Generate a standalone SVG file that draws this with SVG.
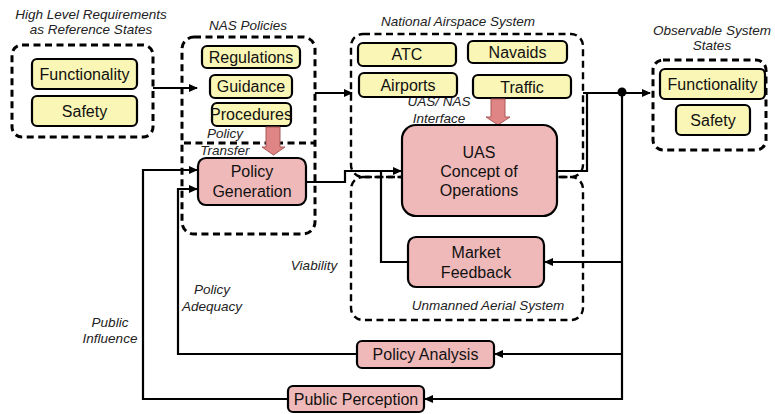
<svg xmlns="http://www.w3.org/2000/svg" width="775" height="414" viewBox="0 0 775 414">
<defs>
<style>
.dash{fill:none;stroke:#000;stroke-width:3;stroke-dasharray:7,4.5}
.dash2{fill:none;stroke:#000;stroke-width:2.4;stroke-dasharray:7,4.5}
.y{fill:#faf6b6;stroke:#000;stroke-width:2.2}
.p{fill:#f0b9b9;stroke:#000;stroke-width:2.2}
.t{font-family:"Liberation Sans",Arial,sans-serif;font-size:16px;fill:#111;text-anchor:middle}
.i{font-family:"Liberation Sans",Arial,sans-serif;font-size:13.5px;font-style:italic;fill:#222;text-anchor:middle}
.c{fill:none;stroke:#000;stroke-width:2.2}
.fat{fill:#e08585;stroke:#a85858;stroke-width:1}
</style>
<marker id="ah" markerWidth="9" markerHeight="8" refX="8" refY="4" orient="auto" markerUnits="userSpaceOnUse">
<path d="M0,0 L9,4 L0,8 Z" fill="#000"/>
</marker>
</defs>
<rect width="775" height="414" fill="#fff"/>

<g id="requirements">
<text class="i" x="91" y="19">High Level Requirements</text>
<text class="i" x="91" y="34">as Reference States</text>
<rect class="dash" x="12" y="45" width="141" height="92" rx="10"/>
</g>
<g id="nas-policies">
<text class="i" x="248" y="30">NAS Policies</text>
<rect class="dash" x="182" y="37" width="133" height="197" rx="12"/>
<line class="dash" x1="184" y1="143" x2="314" y2="143"/>
<text class="i" x="225" y="138">Policy</text>
<text class="i" x="225" y="155">Transfer</text>
</g>
<g id="nas">
<text class="i" x="458" y="26">National Airspace System</text>
<rect class="dash2" x="351" y="34" width="232" height="143" rx="12"/>
<text class="i" x="439" y="106">UAS/ NAS</text>
<text class="i" x="439" y="123">Interface</text>
</g>
<g id="uas-system">
<rect class="dash2" x="351" y="177" width="232" height="143" rx="12"/>
<text class="i" x="488" y="310">Unmanned Aerial System</text>
</g>
<g id="observable">
<text class="i" x="712" y="35">Observable System</text>
<text class="i" x="712" y="50">States</text>
<rect class="dash" x="653" y="60" width="113" height="90" rx="10"/>
</g>

<g id="connectors">
<line class="c" x1="153" y1="88" x2="197" y2="88" marker-end="url(#ah)"/>
<line class="c" x1="315" y1="93" x2="352" y2="93" marker-end="url(#ah)"/>
<polyline class="c" points="583,93 650,93" marker-end="url(#ah)"/>
<polyline class="c" points="557,171 587,171 587,93"/>
<circle cx="622" cy="92" r="4.5" fill="#000"/>
<line class="c" x1="622" y1="92" x2="622" y2="400"/>
<line class="c" x1="622" y1="262" x2="545" y2="262" marker-end="url(#ah)"/>
<line class="c" x1="622" y1="354" x2="495" y2="354" marker-end="url(#ah)"/>
<polyline class="c" points="622,399 425,399" marker-end="url(#ah)"/>
<polyline class="c" points="408,262 381,262 381,171"/>
<polyline class="c" points="306,182 345,182 345,171 401,171" marker-end="url(#ah)"/>
<polyline class="c" points="357,354 178,354 178,189 197,189" marker-end="url(#ah)"/>
<polyline class="c" points="288,399 143,399 143,170 197,170" marker-end="url(#ah)"/>
<text class="i" x="314" y="270">Viability</text>
<text class="i" x="212" y="294">Policy</text>
<text class="i" x="212" y="311">Adequacy</text>
<text class="i" x="110" y="327">Public</text>
<text class="i" x="110" y="343">Influence</text>
</g>

<g id="req-functionality"><rect class="y" x="32" y="59" width="105" height="30" rx="5"/><text class="t" x="84.5" y="80">Functionality</text></g>
<g id="req-safety"><rect class="y" x="32" y="96" width="105" height="30" rx="5"/><text class="t" x="84.5" y="117">Safety</text></g>
<g id="regulations"><rect class="y" x="202" y="46" width="98" height="22" rx="5"/><text class="t" x="251" y="63">Regulations</text></g>
<g id="guidance"><rect class="y" x="210" y="75" width="82" height="23" rx="5"/><text class="t" x="251" y="92">Guidance</text></g>
<g id="procedures"><rect class="y" x="212" y="103" width="79" height="23" rx="5"/><text class="t" x="251" y="120">Procedures</text></g>
<g id="policy-transfer-arrow"><path class="fat" d="M266,127 H280 V147 H285 L273.5,155 L262,147 H266 Z"/></g>
<g id="policy-generation"><rect class="p" x="198" y="158" width="108" height="47" rx="8"/><text class="t" x="252" y="177">Policy</text><text class="t" x="252" y="197">Generation</text></g>
<g id="atc"><rect class="y" x="358" y="43" width="98" height="23" rx="5"/><text class="t" x="407" y="60">ATC</text></g>
<g id="navaids"><rect class="y" x="468" y="41" width="99" height="22" rx="5"/><text class="t" x="517.5" y="58">Navaids</text></g>
<g id="airports"><rect class="y" x="359" y="73" width="98" height="24" rx="5"/><text class="t" x="408" y="91">Airports</text></g>
<g id="traffic"><rect class="y" x="473" y="75" width="98" height="23" rx="5"/><text class="t" x="522" y="93">Traffic</text></g>
<g id="interface-arrow"><path class="fat" d="M491,99 H505 V117 H510 L498,125 L486,117 H491 Z"/></g>
<g id="uas-conops"><rect class="p" x="402" y="125" width="155" height="91" rx="14"/><text class="t" x="479" y="158">UAS</text><text class="t" x="479" y="177">Concept of</text><text class="t" x="479" y="196">Operations</text></g>
<g id="market-feedback"><rect class="p" x="408" y="237" width="136" height="50" rx="8"/><text class="t" x="476" y="258">Market</text><text class="t" x="476" y="278">Feedback</text></g>
<g id="obs-functionality"><rect class="y" x="660" y="69" width="105" height="30" rx="5"/><text class="t" x="712.5" y="90">Functionality</text></g>
<g id="obs-safety"><rect class="y" x="676" y="105" width="74" height="30" rx="5"/><text class="t" x="713" y="126">Safety</text></g>
<g id="policy-analysis"><rect class="p" x="357" y="341" width="137" height="27" rx="5"/><text class="t" x="425.5" y="360">Policy Analysis</text></g>
<g id="public-perception"><rect class="p" x="288" y="386" width="136" height="26" rx="5"/><text class="t" x="356" y="405">Public Perception</text></g>
</svg>
